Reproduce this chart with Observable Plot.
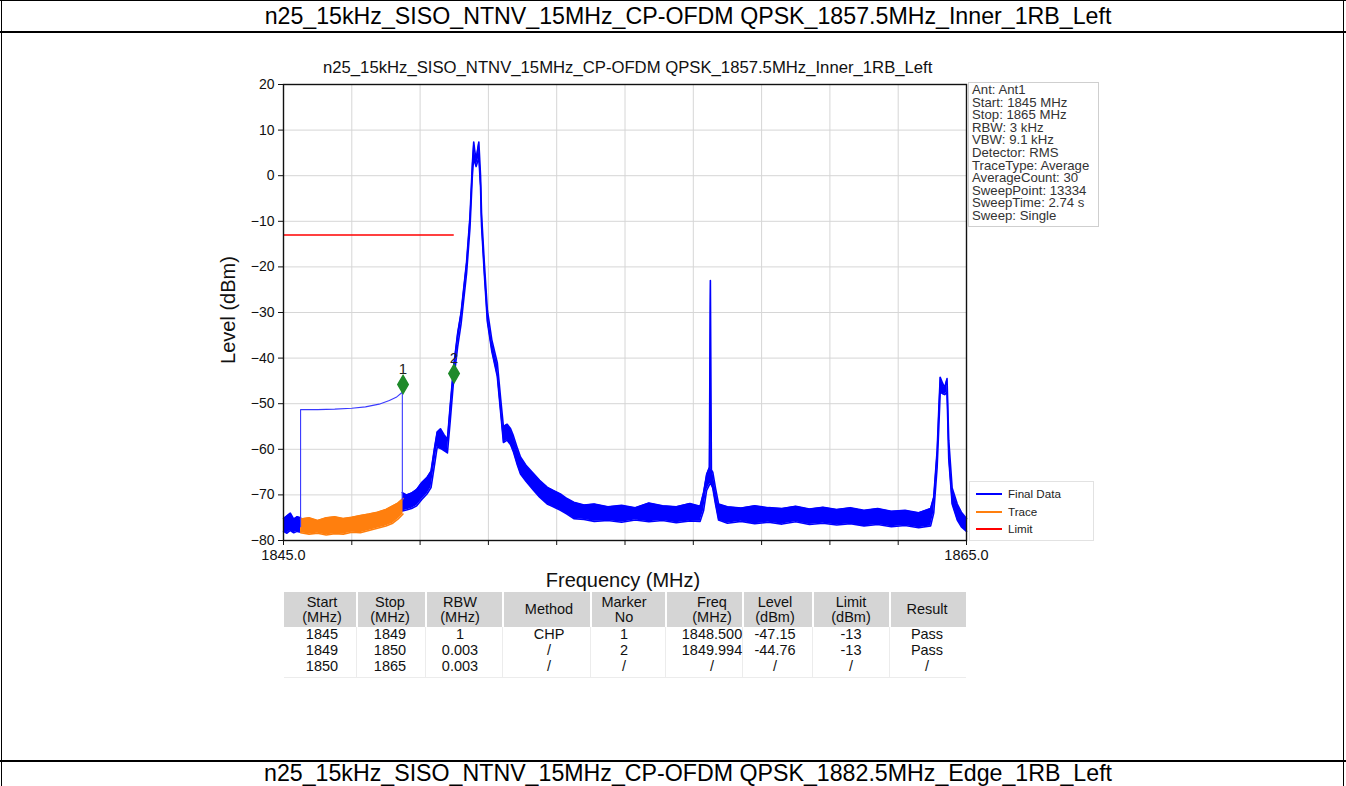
<!DOCTYPE html>
<html><head><meta charset="utf-8">
<script src="https://cdn.jsdelivr.net/npm/d3@7"></script>
<script src="https://cdn.jsdelivr.net/npm/@observablehq/plot@0.6"></script>
<style>
body{margin:0;background:#fff;}
#page{position:relative;width:1346px;height:786px;overflow:hidden;font-family:"Liberation Sans",Arial,sans-serif;color:#000;background:#fff;}
.abs{position:absolute;}
.hdr{position:absolute;left:188px;width:1000px;text-align:center;font-size:23.2px;line-height:32px;white-space:nowrap;}
.cell{position:absolute;width:110px;text-align:center;font-family:"Liberation Sans Narrow","Arial Narrow","Liberation Sans",sans-serif;font-size:14.5px;line-height:14px;height:14px;color:#111;white-space:nowrap;}
.info{position:absolute;left:968px;top:82px;width:131px;height:145px;border:1px solid #cfcfcf;background:#fff;box-sizing:border-box;padding:1px 0 0 3px;font-size:13.2px;line-height:12.6px;color:#333;white-space:nowrap;}
.leg{position:absolute;left:969px;top:481px;width:125px;height:60px;border:1px solid #e2e2e2;background:#fff;box-sizing:border-box;}
.legline{position:absolute;left:6px;width:26px;height:2px;}
.legtxt{position:absolute;left:38px;font-size:11.6px;line-height:12px;color:#222;}
</style></head><body><div id="page">
<div class="abs" style="left:0;top:0;width:1346px;height:1px;background:#000"></div>
<div class="abs" style="left:1px;top:0;width:1px;height:786px;background:#000"></div>
<div class="abs" style="left:1343px;top:0;width:1px;height:786px;background:#000"></div>
<div class="abs" style="left:0;top:31px;width:1346px;height:2px;background:#000"></div>
<div class="abs" style="left:0;top:760px;width:1346px;height:2px;background:#000"></div>
<div class="hdr" id="hdrTop" style="top:0"></div>
<div class="hdr" id="hdrBot" style="top:757px"></div>
<div class="abs" id="chart" style="left:190px;top:50px"></div>
<div class="abs" id="ctitle" style="left:323px;top:58px;width:600px;text-align:center;font-size:16.7px;line-height:20px;white-space:nowrap;color:#111"></div>
<div class="abs" style="left:128px;top:298px;width:200px;text-align:center;font-size:20px;line-height:24px;transform:rotate(-90deg);color:#111">Level (dBm)</div>
<div class="abs" style="left:423px;top:568px;width:400px;text-align:center;font-size:20px;line-height:24px;color:#111">Frequency (MHz)</div>
<div class="info" id="info"></div>
<div class="leg" id="leg"></div>
<div id="table"></div>
</div>
<script>
// ---------- data ----------
const titleText = "n25_15kHz_SISO_NTNV_15MHz_CP-OFDM QPSK_1857.5MHz_Inner_1RB_Left";
const nextTitleText = "n25_15kHz_SISO_NTNV_15MHz_CP-OFDM QPSK_1882.5MHz_Edge_1RB_Left";
const infoLines = ["Ant: Ant1","Start: 1845 MHz","Stop: 1865 MHz","RBW: 3 kHz","VBW: 9.1 kHz","Detector: RMS","TraceType: Average","AverageCount: 30","SweepPoint: 13334","SweepTime: 2.74 s","Sweep: Single"];
const legendNames = ["Final Data","Trace","Limit"];
const legendColors = ["#0000ff","#ff7f0e","#ff0000"];

const xTicks = [1845,1847,1849,1851,1853,1855,1857,1859,1861,1863,1865];
const yTicks = [-80,-70,-60,-50,-40,-30,-20,-10,0,10,20];

// Final Data, left piece (envelope of the noisy trace)
const blueLeftFreq = [1845.0,1845.1,1845.2,1845.3,1845.4,1845.5];
const blueLeftLo   = [-78.0,-78.4,-77.8,-78.3,-78.0,-78.2];
const blueLeftHi   = [-75.2,-74.6,-74.0,-75.3,-74.8,-75.0];

// Trace (orange) envelope
const traceFreq = [1845.5,1845.75,1846.0,1846.25,1846.5,1846.75,1847.0,1847.25,1847.5,1847.75,1848.0,1848.2,1848.35,1848.5];
const traceLo   = [-78.3,-78.6,-78.4,-78.8,-78.5,-78.6,-78.2,-78.3,-77.8,-77.3,-76.8,-76.2,-75.3,-74.2];
const traceHi   = [-75.3,-75.0,-75.6,-75.0,-74.8,-75.2,-74.9,-74.5,-74.2,-73.8,-73.2,-72.4,-71.8,-70.8];

// Final Data, right piece (envelope)
const blueFreq = [1848.48,1848.6,1848.75,1848.9,1849.05,1849.2,1849.32,1849.42,1849.5,1849.6,1849.7,1849.8,1849.88,1849.98,1850.1,1850.2,1850.36,1850.46,1850.53,1850.57,1850.6,1850.64,1850.68,1850.72,1850.77,1850.8,1850.88,1850.97,1851.1,1851.26,1851.36,1851.44,1851.55,1851.65,1851.73,1851.85,1851.94,1852.1,1852.32,1852.5,1852.72,1852.9,1853.11,1853.3,1853.5,1853.8,1854.1,1854.5,1854.9,1855.3,1855.7,1856.1,1856.5,1856.9,1857.2,1857.3,1857.39,1857.47,1857.5,1857.53,1857.57,1857.65,1857.74,1858.0,1858.4,1858.8,1859.2,1859.6,1860.0,1860.4,1860.8,1861.2,1861.6,1862.0,1862.4,1862.8,1863.2,1863.6,1863.95,1864.04,1864.14,1864.19,1864.23,1864.3,1864.36,1864.43,1864.48,1864.58,1864.73,1864.85,1865.0];
const blueLo = [-73.5,-73.3,-73.0,-72.4,-71.0,-69.8,-68.4,-63.5,-59.5,-59.8,-60.3,-60.8,-54.0,-45.0,-37.5,-32.5,-21.5,-11.5,0.0,4.0,3.0,2.0,3.0,4.0,-2.5,-11.0,-21.5,-32.0,-38.5,-44.0,-52.0,-58.5,-58.0,-59.0,-60.5,-63.5,-65.4,-67.0,-69.0,-70.5,-72.0,-72.6,-73.4,-74.2,-75.2,-75.4,-75.8,-75.6,-76.0,-75.5,-75.9,-75.6,-76.1,-75.7,-75.8,-73.5,-69.0,-67.8,-67.5,-67.8,-68.5,-72.0,-75.5,-76.2,-75.8,-76.3,-76.0,-76.4,-75.9,-76.5,-76.2,-76.6,-76.3,-76.8,-76.5,-77.0,-76.7,-77.2,-76.8,-74.0,-64.0,-55.0,-47.5,-47.8,-48.0,-47.5,-62.0,-72.0,-75.5,-77.0,-78.0];
const blueHi = [-69.5,-70.0,-69.6,-68.8,-67.3,-66.2,-64.8,-59.8,-56.2,-55.5,-56.8,-57.8,-50.5,-42.0,-34.5,-30.0,-19.0,-9.0,2.5,7.4,5.5,3.5,5.5,7.4,0.0,-8.5,-19.0,-29.5,-36.0,-41.0,-49.0,-55.0,-54.5,-55.5,-57.0,-59.8,-61.7,-63.5,-65.3,-66.8,-68.3,-69.0,-69.8,-70.8,-71.6,-72.2,-72.0,-72.6,-72.3,-72.8,-71.8,-72.4,-72.6,-71.9,-72.5,-69.5,-65.5,-64.0,-23.0,-64.5,-65.0,-68.5,-72.0,-72.6,-72.9,-72.4,-72.8,-73.0,-72.5,-73.1,-72.7,-73.2,-72.8,-73.4,-73.0,-73.6,-73.4,-73.9,-73.0,-70.5,-60.3,-51.0,-44.2,-45.5,-46.5,-44.5,-58.0,-68.5,-72.0,-73.8,-75.2];

// channel-power curve drawn over the CHP range
const chpFreq  = [1845.5,1845.5,1846.0,1846.5,1847.0,1847.4,1847.8,1848.1,1848.3,1848.48,1848.48];
const chpLevel = [-77.0,-51.3,-51.3,-51.2,-51.0,-50.7,-50.1,-49.3,-48.6,-47.5,-71.0];

// limit line
const limitStart = [1845];
const limitStop  = [1850];
const limitLevel = [-13];

// markers
const markerNo    = ["1","2"];
const markerFreq  = [1848.5,1849.994];
const markerLevel = [-45.8,-43.4];

// result table
const colHead1 = ["Start","Stop","RBW","Method","Marker","Freq","Level","Limit","Result"];
const colHead2 = ["(MHz)","(MHz)","(MHz)","","No","(MHz)","(dBm)","(dBm)",""];
const tStart  = ["1845","1849","1850"];
const tStop   = ["1849","1850","1865"];
const tRbw    = ["1","0.003","0.003"];
const tMethod = ["CHP","/","/"];
const tMarker = ["1","2","/"];
const tFreq   = ["1848.500","1849.994","/"];
const tLevel  = ["-47.15","-44.76","/"];
const tLimit  = ["-13","-13","/"];
const tResult = ["Pass","Pass","/"];

// ---------- build ----------
const zip = (f, lo, hi) => f.map((v,i)=>({f:v, lo:lo[i], hi:hi[i]}));
const blueLeft = zip(blueLeftFreq, blueLeftLo, blueLeftHi);
const blueRight = zip(blueFreq, blueLo, blueHi);
const trace = zip(traceFreq, traceLo, traceHi);
const chp = chpFreq.map((f,i)=>({f, v:chpLevel[i]}));
const limit = limitLevel.map((v,i)=>({a:limitStart[i], b:limitStop[i], v}));
const markers = markerNo.map((n,i)=>({n, f:markerFreq[i], v:markerLevel[i]}));

const BLUE = legendColors[0], ORANGE = legendColors[1], RED = legendColors[2];
const band = (data, color) => [
  Plot.areaY(data, {x:"f", y1:"lo", y2:"hi", fill:color}),
  Plot.line(data, {x:"f", y:"hi", stroke:color, strokeWidth:1.6}),
  Plot.line(data, {x:"f", y:"lo", stroke:color, strokeWidth:1.6})
];

const chart = Plot.plot({
  width: 920, height: 520,
  marginLeft: 93, marginRight: 144, marginTop: 34, marginBottom: 30,
  x: {domain:[1845,1865]},
  y: {domain:[-80,20]},
  style: {fontFamily:"Liberation Sans, Arial, sans-serif", background:"transparent", color:"#111", overflow:"visible"},
  marks: [
    Plot.gridX(xTicks.slice(1,-1), {stroke:"#d6d6d6", strokeOpacity:1}),
    Plot.gridY(yTicks.slice(1,-1), {stroke:"#d6d6d6", strokeOpacity:1}),
    Plot.axisY({ticks:yTicks, tickSize:5, tickPadding:4, fontSize:14, label:null,
      tickFormat: d => d < 0 ? "\u2212" + (-d) : String(d)}),
    Plot.axisX({ticks:xTicks, tickSize:5, tickPadding:4, fontSize:14.5, label:null,
      tickFormat: d => (d === xTicks[0] || d === xTicks[xTicks.length-1]) ? d.toFixed(1) : ""}),
    ...band(blueLeft, BLUE),
    ...band(blueRight, BLUE),
    ...band(trace, ORANGE),
    Plot.line(chp, {x:"f", y:"v", stroke:"#3a3aff", strokeWidth:1.1}),
    Plot.ruleY(limit, {y:"v", x1:"a", x2:"b", stroke:RED, strokeWidth:1.6}),
    Plot.dot(markers, {x:"f", y:"v", symbol:"diamond", r:5.5, fill:"#1f8a2a", stroke:"#1f8a2a"}),
    Plot.text(markers, {x:"f", y:"v", text:"n", dy:-15, fontSize:15, fill:"#222"}),
    Plot.frame({stroke:"#111", strokeWidth:1.4})
  ]
});
document.getElementById("chart").appendChild(chart);

document.getElementById("hdrTop").textContent = titleText;
document.getElementById("hdrBot").textContent = nextTitleText;
document.getElementById("ctitle").textContent = titleText;
document.getElementById("info").innerHTML = infoLines.map(s=>`<div>${s}</div>`).join("");
const leg = document.getElementById("leg");
legendNames.forEach((n,i)=>{
  const y = 11 + i*17.5;
  leg.insertAdjacentHTML("beforeend",
    `<div class="legline" style="top:${y}px;background:${legendColors[i]}"></div><div class="legtxt" style="top:${y-5}px">${n}</div>`);
});

// table
const tbl = document.getElementById("table");
const centers = [322,390,460,549,624,712,775,851,927];
const bounds = [284,356,425,502,590,665,742,812,889,966];
tbl.insertAdjacentHTML("beforeend", `<div class="abs" style="left:${bounds[0]}px;top:592px;width:${bounds[9]-bounds[0]}px;height:35px;background:#d5d5d5"></div>`);
for (let i=1;i<9;i++){
  tbl.insertAdjacentHTML("beforeend", `<div class="abs" style="left:${bounds[i]}px;top:592px;width:2px;height:35px;background:#fff"></div>`);
  tbl.insertAdjacentHTML("beforeend", `<div class="abs" style="left:${bounds[i]}px;top:627px;width:1px;height:50px;background:#ececec"></div>`);
}
tbl.insertAdjacentHTML("beforeend", `<div class="abs" style="left:${bounds[0]}px;top:677px;width:${bounds[9]-bounds[0]}px;height:1px;background:#ececec"></div>`);
const cols = [tStart,tStop,tRbw,tMethod,tMarker,tFreq,tLevel,tLimit,tResult];
centers.forEach((c,i)=>{
  if (colHead2[i]) {
    tbl.insertAdjacentHTML("beforeend", `<div class="cell" style="left:${c-55}px;top:595px">${colHead1[i]}</div>`);
    tbl.insertAdjacentHTML("beforeend", `<div class="cell" style="left:${c-55}px;top:610px">${colHead2[i]}</div>`);
  } else {
    tbl.insertAdjacentHTML("beforeend", `<div class="cell" style="left:${c-55}px;top:602px">${colHead1[i]}</div>`);
  }
  cols[i].forEach((v,r)=>{
    tbl.insertAdjacentHTML("beforeend", `<div class="cell" style="left:${c-55}px;top:${627+r*16}px">${v}</div>`);
  });
});
</script>
</body></html>
